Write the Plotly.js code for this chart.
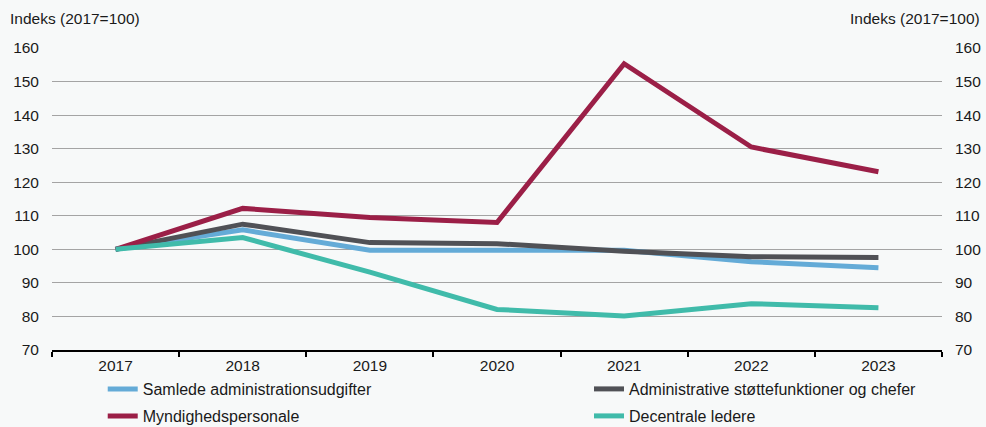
<!DOCTYPE html>
<html>
<head>
<meta charset="utf-8">
<script src="https://cdn.plot.ly/plotly-3.0.1.min.js"></script>
<style>html,body{margin:0;padding:0;background:#f7f9f9;}#chart{width:986px;height:427px;}</style>
</head>
<body>
<div id="chart"></div>
<script>
var years = ["2017", "2018", "2019", "2020", "2021", "2022", "2023"];
var samlede = [100, 105.8, 99.7, 99.7, 99.7, 96.3, 94.5];
var administrative = [100, 107.5, 102.0, 101.7, 99.4, 97.8, 97.6];
var myndighed = [100, 112.2, 109.5, 108.0, 155.3, 130.5, 123.1];
var decentrale = [100, 103.5, 93.2, 82.1, 80.1, 83.8, 82.6];
var names = ["Samlede administrationsudgifter", "Administrative støttefunktioner og chefer", "Myndighedspersonale", "Decentrale ledere"];
var colors = ["#64abd7", "#505156", "#9b1f47", "#40bbaa"];
var yTicks = [70, 80, 90, 100, 110, 120, 130, 140, 150, 160];
var yTitle = "Indeks (2017=100)";

var font = "Liberation Sans, Arial, Helvetica, sans-serif";
var txt = "#1a1a1a";
function tr(y, i, lg) {
  return {x: years, y: y, name: names[i], type: "scatter", mode: "lines",
    line: {color: colors[i], width: 5}, legend: lg, hoverinfo: "skip"};
}
var data = [
  tr(samlede, 0, "legend"),
  tr(administrative, 1, "legend2"),
  tr(myndighed, 2, "legend3"),
  tr(decentrale, 3, "legend4"),
  {x: years, y: samlede, yaxis: "y2", type: "scatter", mode: "lines", showlegend: false, line: {width: 0}, hoverinfo: "skip"}
];
function leg(x, y) {
  return {x: x, y: y, orientation: "h", xanchor: "left", yanchor: "middle",
    bgcolor: "rgba(0,0,0,0)", font: {family: font, size: 16, color: txt}, itemclick: false};
}
var row1 = (350 - 389) / 302, row2 = (350 - 416) / 302;
var col1 = 0.057, col2 = (589 - 52) / 890;
var layout = {
  width: 986, height: 427,
  margin: {l: 52, r: 44, t: 48, b: 77, autoexpand: false},
  paper_bgcolor: "#f7f9f9", plot_bgcolor: "#f7f9f9",
  font: {family: font, size: 15.5, color: txt},
  showlegend: true,
  xaxis: {type: "category", range: [-0.5, 6.5], showgrid: false, showline: true, linecolor: "#000", linewidth: 2,
    ticks: "outside", tickson: "boundaries", ticklen: 5, tickcolor: "#000", tickwidth: 2, zeroline: false,
    tickfont: {family: font, size: 15.5, color: txt}, fixedrange: true},
  yaxis: {range: [70, 160], tickvals: yTicks, showgrid: true, gridcolor: "#a4a4a4", gridwidth: 1, zeroline: false,
    showline: false, ticks: "", ticklabelstandoff: 12, tickfont: {family: font, size: 15.5, color: txt}, fixedrange: true},
  yaxis2: {range: [70, 160], tickvals: yTicks, overlaying: "y", side: "right", showgrid: false, zeroline: false,
    showline: false, ticks: "", ticklabelstandoff: 12, tickfont: {family: font, size: 15.5, color: txt}, fixedrange: true},
  legend: leg(col1, row1),
  legend2: leg(col2, row1),
  legend3: leg(col1, row2),
  legend4: leg(col2, row2),
  annotations: [
    {text: yTitle, xref: "paper", yref: "paper", x: -0.049, y: 1.099, xanchor: "left", yanchor: "middle", showarrow: false, font: {family: font, size: 15.5, color: txt}},
    {text: yTitle, xref: "paper", yref: "paper", x: 1.0449, y: 1.099, xanchor: "right", yanchor: "middle", showarrow: false, font: {family: font, size: 15.5, color: txt}}
  ]
};
Plotly.newPlot("chart", data, layout, {staticPlot: true, displayModeBar: false});
</script>
</body>
</html>
